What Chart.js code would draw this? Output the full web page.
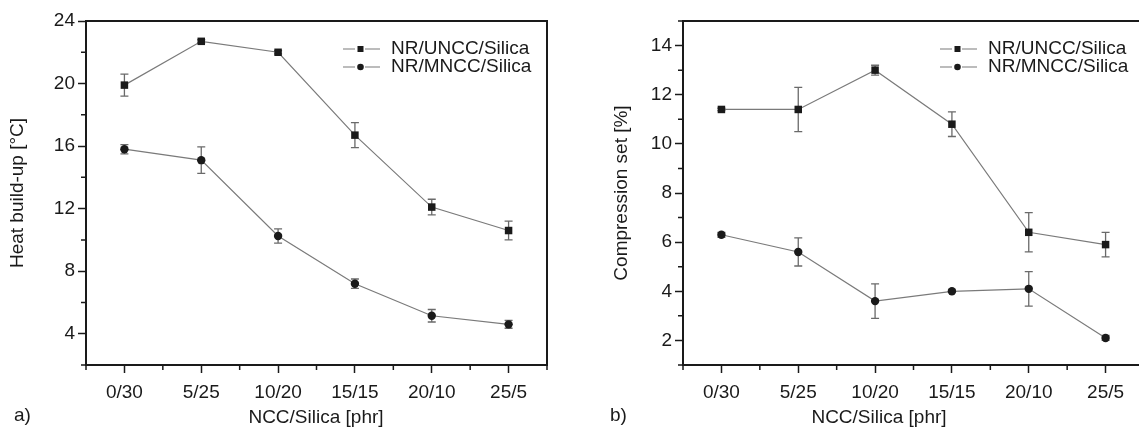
<!DOCTYPE html>
<html>
<head>
<meta charset="utf-8">
<script src="https://cdn.jsdelivr.net/npm/chart.js@4.4.1/dist/chart.umd.min.js"></script>
<style>
    body { margin: 0; width: 1139px; height: 428px; overflow: hidden; background: #fff; position: relative; }
    canvas { position: absolute; top: 0; }
    #heatChart { left: 0; }
    #compChart { left: 560px; }
</style>
</head>
<body>
<canvas id="heatChart" width="560" height="428"></canvas>
<canvas id="compChart" width="600" height="428"></canvas>
<script>
const categories = ['0/30', '5/25', '10/20', '15/15', '20/10', '25/5'];
const seriesNames = ['NR/UNCC/Silica', 'NR/MNCC/Silica'];

// a) heat build-up [°C]
const heatUNCC = [19.9, 22.7, 22.0, 16.7, 12.1, 10.6];
const heatUNCCErr = [0.7, 0.1, 0.1, 0.8, 0.5, 0.6];
const heatMNCC = [15.8, 15.1, 10.25, 7.2, 5.15, 4.6];
const heatMNCCErr = [0.3, 0.85, 0.45, 0.3, 0.4, 0.25];
const heatTicks = [4, 8, 12, 16, 20, 24];

// b) compression set [%]
const compUNCC = [11.4, 11.4, 13.0, 10.8, 6.4, 5.9];
const compUNCCErr = [0.05, 0.9, 0.2, 0.5, 0.8, 0.5];
const compMNCC = [6.3, 5.6, 3.6, 4.0, 4.1, 2.1];
const compMNCCErr = [0.1, 0.57, 0.7, 0.05, 0.7, 0.1];
const compTicks = [2, 4, 6, 8, 10, 12, 14];

const ink = '#1a1a1a';
const lineGray = '#7a7a7a';
const errGray = '#6a6a6a';
const fontFamily = '"Liberation Sans", Arial, sans-serif';
const fontSize = 19;

function isWhole(v) {
    return Math.abs(v - Math.round(v)) < 1e-6;
}

function toPoints(values) {
    return values.map((v, i) => ({ x: i, y: v }));
}

// error bars, frame, minor ticks, legend and titles
function extrasPlugin(opts) {
    return {
        id: 'extras',
        beforeDatasetsDraw(chart) {
            const ctx = chart.ctx;
            const xs = chart.scales.x, ys = chart.scales.y;
            ctx.save();
            ctx.strokeStyle = errGray;
            ctx.lineWidth = 1.3;
            opts.errors.forEach((errs, di) => {
                chart.data.datasets[di].data.forEach((p, i) => {
                    const e = errs[i];
                    if (!e) return;
                    const px = xs.getPixelForValue(p.x);
                    const top = ys.getPixelForValue(p.y + e);
                    const bot = ys.getPixelForValue(p.y - e);
                    ctx.beginPath();
                    ctx.moveTo(px, top); ctx.lineTo(px, bot);
                    ctx.moveTo(px - 4, top); ctx.lineTo(px + 4, top);
                    ctx.moveTo(px - 4, bot); ctx.lineTo(px + 4, bot);
                    ctx.stroke();
                });
            });
            ctx.restore();
        },
        afterDraw(chart) {
            const ctx = chart.ctx;
            const area = chart.chartArea;
            const xs = chart.scales.x, ys = chart.scales.y;
            ctx.save();

            // top and right frame
            ctx.strokeStyle = ink;
            ctx.lineWidth = 2;
            ctx.beginPath();
            ctx.moveTo(area.left, area.top);
            ctx.lineTo(area.right, area.top);
            ctx.lineTo(area.right, area.bottom);
            ctx.stroke();

            // minor ticks
            ctx.lineWidth = 1.5;
            ctx.beginPath();
            xs.ticks.forEach(t => {
                if (isWhole(t.value)) return;
                const px = xs.getPixelForValue(t.value);
                ctx.moveTo(px, area.bottom);
                ctx.lineTo(px, area.bottom + 5);
            });
            ys.ticks.forEach(t => {
                if (opts.majorY.includes(t.value)) return;
                const py = ys.getPixelForValue(t.value);
                ctx.moveTo(area.left, py);
                ctx.lineTo(area.left - 5, py);
            });
            ctx.stroke();

            // legend
            ctx.font = fontSize + 'px ' + fontFamily;
            ctx.textBaseline = 'middle';
            ctx.fillStyle = ink;
            const lx = area.right - 204;
            seriesNames.forEach((name, i) => {
                const ly = area.top + 28 + i * 18;
                ctx.strokeStyle = lineGray;
                ctx.lineWidth = 1.2;
                ctx.beginPath();
                ctx.moveTo(lx, ly); ctx.lineTo(lx + 12, ly);
                ctx.moveTo(lx + 22, ly); ctx.lineTo(lx + 37, ly);
                ctx.stroke();
                ctx.fillStyle = ink;
                if (i === 0) {
                    ctx.fillRect(lx + 14.5, ly - 3, 6, 6);
                } else {
                    ctx.beginPath();
                    ctx.arc(lx + 17.5, ly, 3.3, 0, Math.PI * 2);
                    ctx.fill();
                }
                ctx.textAlign = 'left';
                ctx.fillText(name, lx + 48, ly);
            });

            // axis titles and panel label
            ctx.textAlign = 'center';
            ctx.fillText('NCC/Silica [phr]', opts.xTitleX, 418);
            ctx.textAlign = 'left';
            ctx.fillText(opts.panel, opts.panelX, 416);
            ctx.translate(opts.yTitleX, (area.top + area.bottom) / 2);
            ctx.rotate(-Math.PI / 2);
            ctx.textAlign = 'center';
            ctx.fillText(opts.yTitle, 0, 0);
            ctx.restore();
        }
    };
}

function makeChart(canvasId, seriesA, seriesB, yMin, yMax, majorY, opts) {
    const ctx = document.getElementById(canvasId).getContext('2d');
    return new Chart(ctx, {
        type: 'line',
        data: {
            datasets: [{
                label: seriesNames[0],
                data: toPoints(seriesA),
                borderColor: lineGray,
                borderWidth: 1.2,
                pointStyle: 'rect',
                pointRadius: 5.3,
                pointBackgroundColor: ink,
                pointBorderColor: ink,
                pointBorderWidth: 0,
                tension: 0
            }, {
                label: seriesNames[1],
                data: toPoints(seriesB),
                borderColor: lineGray,
                borderWidth: 1.2,
                pointStyle: 'circle',
                pointRadius: 4.2,
                pointBackgroundColor: ink,
                pointBorderColor: ink,
                pointBorderWidth: 0,
                tension: 0
            }]
        },
        options: {
            responsive: false,
            animation: false,
            layout: { padding: { top: 21, right: opts.padRight, left: 0, bottom: 0 } },
            plugins: {
                legend: { display: false },
                tooltip: { enabled: false }
            },
            scales: {
                x: {
                    type: 'linear',
                    min: -0.5,
                    max: 5.5,
                    afterFit: s => { s.height = 63; },
                    border: { display: true, color: ink, width: 2 },
                    grid: {
                        display: true,
                        drawOnChartArea: false,
                        drawTicks: true,
                        tickLength: 8,
                        tickWidth: 1.5,
                        tickColor: c => (c.tick && isWhole(c.tick.value)) ? ink : 'rgba(0,0,0,0)'
                    },
                    ticks: {
                        stepSize: 0.5,
                        autoSkip: false,
                        maxRotation: 0,
                        padding: 8,
                        color: ink,
                        font: { family: fontFamily, size: fontSize },
                        callback: v => isWhole(v) ? (categories[Math.round(v)] || '') : ''
                    }
                },
                y: {
                    min: yMin,
                    max: yMax,
                    afterFit: s => { s.width = opts.yWidth; },
                    border: { display: true, color: ink, width: 2 },
                    grid: {
                        display: true,
                        drawOnChartArea: false,
                        drawTicks: true,
                        tickLength: 8,
                        tickWidth: 1.5,
                        tickColor: c => (c.tick && majorY.includes(c.tick.value)) ? ink : 'rgba(0,0,0,0)'
                    },
                    ticks: {
                        stepSize: (yMax - yMin) > 15 ? 2 : 1,
                        autoSkip: false,
                        padding: 3,
                        color: ink,
                        font: { family: fontFamily, size: fontSize },
                        callback: v => majorY.includes(v) ? String(v) : ''
                    }
                }
            }
        },
        plugins: [extrasPlugin(Object.assign({ majorY: majorY }, opts))]
    });
}

makeChart('heatChart', heatUNCC, heatMNCC, 2, 24, heatTicks, {
    errors: [heatUNCCErr, heatMNCCErr],
    padRight: 13,
    yWidth: 86,
    yTitle: 'Heat build-up [°C]',
    yTitleX: 18,
    xTitleX: 316,
    panel: 'a)',
    panelX: 14
});

makeChart('compChart', compUNCC, compMNCC, 1, 15, compTicks, {
    errors: [compUNCCErr, compMNCCErr],
    padRight: 16,
    yWidth: 123,
    yTitle: 'Compression set [%]',
    yTitleX: 62,
    xTitleX: 319,
    panel: 'b)',
    panelX: 50
});
</script>
</body>
</html>
